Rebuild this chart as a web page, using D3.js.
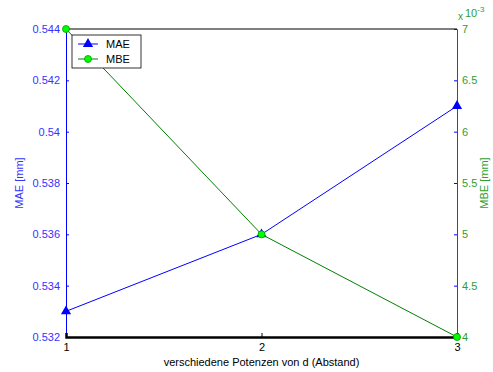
<!DOCTYPE html>
<html>
<head>
<meta charset="utf-8">
<script src="https://cdn.jsdelivr.net/npm/d3@7"></script>
<style>
  body { margin: 0; background: #fff; }
  text { font-family: "Liberation Sans", Arial, sans-serif; font-size: 11px; }
</style>
</head>
<body>
<div id="chart"></div>
<script>
// data
const xValues = [1, 2, 3];
const maeValues = [0.533, 0.536, 0.541];
const mbeValues = [7.0, 5.0, 4.0]; // x 10^-3
const leftTicks = [0.532, 0.534, 0.536, 0.538, 0.54, 0.542, 0.544];
const rightTicks = [4, 4.5, 5, 5.5, 6, 6.5, 7];

const W = 493, H = 372;
const pL = 66, pR = 457, pT = 29, pB = 337;
const blue = "#0000ff", blueText = "#3333ff", green = "#008000", greenText = "#2e9e2e";

const svg = d3.select("#chart").append("svg")
  .attr("width", W).attr("height", H);

const x = d3.scaleLinear().domain([1, 3]).range([pL, pR]);
const yL = d3.scaleLinear().domain([0.532, 0.544]).range([pB, pT]);
const yR = d3.scaleLinear().domain([4, 7]).range([pB, pT]);

// top border
svg.append("line").attr("x1", pL).attr("x2", pR).attr("y1", pT).attr("y2", pT)
  .attr("stroke", "#000").attr("stroke-width", 1);

// left axis
const gL = svg.append("g").attr("transform", `translate(${pL},0)`)
  .call(d3.axisLeft(yL).tickValues(leftTicks).tickSize(-3).tickPadding(6)
    .tickFormat(d => String(+d.toFixed(3))));
gL.select(".domain").attr("stroke", blue);
gL.selectAll(".tick line").attr("stroke", blue);
gL.selectAll("text").attr("fill", blueText).style("font-size", "11px");

// right axis
const gR = svg.append("g").attr("transform", `translate(${pR},0)`)
  .call(d3.axisRight(yR).tickValues(rightTicks).tickSize(-3).tickPadding(5)
    .tickFormat(d => String(d)));
gR.select(".domain").attr("stroke", green);
gR.selectAll(".tick line").attr("stroke", blue);
gR.selectAll("text").attr("fill", greenText).style("font-size", "11px");

// bottom axis
const gX = svg.append("g").attr("transform", `translate(0,${pB})`)
  .call(d3.axisBottom(x).tickValues(xValues).tickSize(-4).tickPadding(6).tickFormat(d3.format("d")));
gX.select(".domain").attr("stroke", "#000").attr("stroke-width", 2.5);
gX.selectAll(".tick line").attr("stroke", "#000");
gX.selectAll("text").attr("fill", "#000").style("font-size", "11px");

// exponent label
const ex = svg.append("text").attr("x", 458).attr("y", 20).attr("fill", greenText);
ex.append("tspan").text("x").style("font-size", "10px");
ex.append("tspan").text("10").attr("dx", 2).attr("dy", -3).style("font-size", "11px");
ex.append("tspan").text("-3").attr("dy", -5).style("font-size", "8px");

// axis titles
svg.append("text").attr("transform", `translate(23,${(pT + pB) / 2}) rotate(-90)`)
  .attr("text-anchor", "middle").attr("fill", blueText).text("MAE [mm]");
svg.append("text").attr("transform", `translate(488,${(pT + pB) / 2}) rotate(-90)`)
  .attr("text-anchor", "middle").attr("fill", greenText).text("MBE [mm]");
svg.append("text").attr("x", (pL + pR) / 2).attr("y", 366)
  .attr("text-anchor", "middle").attr("fill", "#000").text("verschiedene Potenzen von d (Abstand)");

// MAE series
const maeData = xValues.map((v, i) => [v, maeValues[i]]);
svg.append("path").datum(maeData)
  .attr("fill", "none").attr("stroke", blue).attr("stroke-width", 1)
  .attr("d", d3.line().x(d => x(d[0])).y(d => yL(d[1])));
const tri = d3.symbol().type(d3.symbolTriangle).size(45);
svg.selectAll(".mae").data(maeData).enter().append("path")
  .attr("transform", d => `translate(${x(d[0])},${yL(d[1])})`)
  .attr("d", tri).attr("fill", blue);

// MBE series
const mbeData = xValues.map((v, i) => [v, mbeValues[i]]);
svg.append("path").datum(mbeData)
  .attr("fill", "none").attr("stroke", green).attr("stroke-width", 1)
  .attr("d", d3.line().x(d => x(d[0])).y(d => yR(d[1])));
svg.selectAll(".mbe").data(mbeData).enter().append("circle")
  .attr("cx", d => x(d[0])).attr("cy", d => yR(d[1])).attr("r", 3.5)
  .attr("fill", "#00ff00").attr("stroke", "#009900").attr("stroke-width", 0.8);

// legend
const lg = svg.append("g").attr("transform", "translate(72,35)");
lg.append("rect").attr("width", 69).attr("height", 33)
  .attr("fill", "#fff").attr("stroke", "#000").attr("stroke-width", 0.8);
lg.append("line").attr("x1", 6).attr("x2", 26).attr("y1", 9).attr("y2", 9).attr("stroke", blue);
lg.append("path").attr("transform", "translate(16,9)").attr("d", tri).attr("fill", blue);
lg.append("text").attr("x", 34).attr("y", 13).attr("fill", "#000").text("MAE");
lg.append("line").attr("x1", 6).attr("x2", 26).attr("y1", 24).attr("y2", 24).attr("stroke", green);
lg.append("circle").attr("cx", 16).attr("cy", 24).attr("r", 3.5)
  .attr("fill", "#00ff00").attr("stroke", "#009900").attr("stroke-width", 0.8);
lg.append("text").attr("x", 34).attr("y", 28).attr("fill", "#000").text("MBE");
</script>
</body>
</html>
